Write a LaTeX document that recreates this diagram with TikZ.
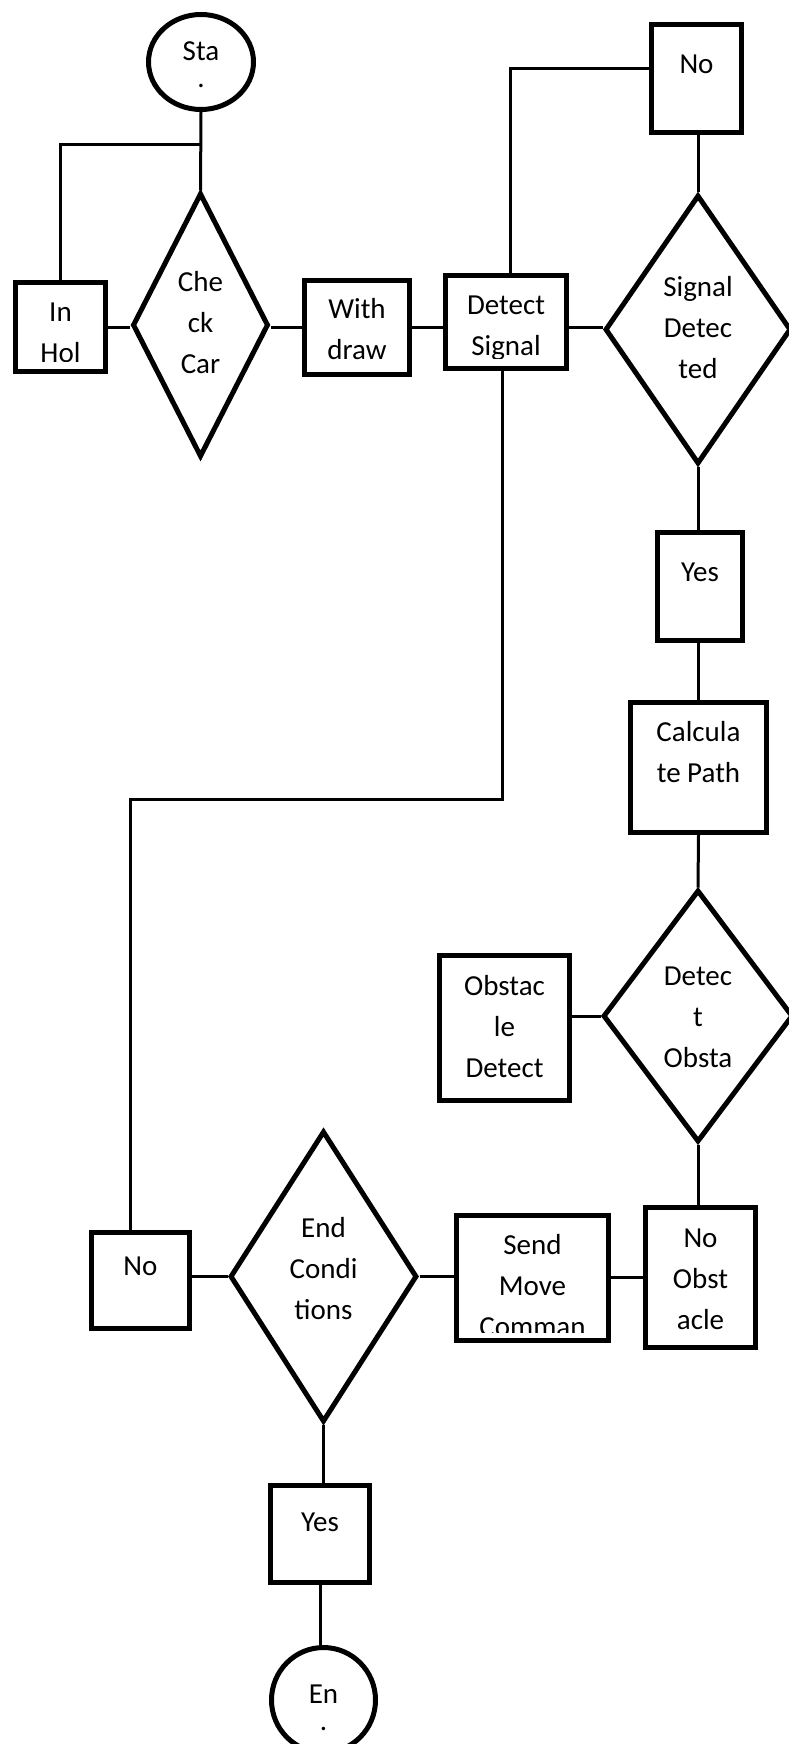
\documentclass[tikz,border=0pt]{standalone}
\usepackage{fontspec}
\setmainfont{Carlito}
\usetikzlibrary{shapes.geometric}
\begin{document}
\begin{tikzpicture}[x=1pt,y=-1pt,
  shp/.style={draw=black, line width=5pt, inner sep=0pt, fill=white},
  box/.style={shp, rectangle},
  dia/.style={shp, diamond},
  ell/.style={shp, ellipse},
  txt/.style={align=center, inner sep=0pt, anchor=base, font=\fontsize{29pt}{41pt}\selectfont},
  conn/.style={draw=black, line width=3pt}]
\useasboundingbox (0,0) rectangle (788,1744);

% shapes
\node[ell, minimum width=105pt, minimum height=95pt] (start) at (201,62) {};
\node[box, minimum width=90pt, minimum height=89pt] (inhol) at (60.5,327) {};
\node[dia, minimum width=136pt, minimum height=264pt] (chk) at (200.5,325) {};
\node[box, minimum width=105pt, minimum height=94pt] (withdraw) at (357,327.5) {};
\node[box, minimum width=121pt, minimum height=93pt] (detsig) at (506,322) {};
\node[box, minimum width=90pt, minimum height=108pt] (no1) at (696.5,78.5) {};
\node[dia, minimum width=186pt, minimum height=269pt] (sigdet) at (698,329.5) {};
\node[box, minimum width=85pt, minimum height=108pt] (yes1) at (700,586.5) {};
\node[box, minimum width=136pt, minimum height=130pt] (calc) at (698.5,767.5) {};
\node[dia, minimum width=190pt, minimum height=252pt] (detobs) at (698,1016) {};
\node[box, minimum width=130pt, minimum height=145pt] (obsdet) at (504.5,1028) {};
\node[box, minimum width=110pt, minimum height=140pt] (noobs) at (700.5,1277.5) {};
\node[box, minimum width=152pt, minimum height=125pt] (send) at (532.5,1278) {};
\node[dia, minimum width=187pt, minimum height=291pt] (endc) at (323.5,1276.5) {};
\node[box, minimum width=98pt, minimum height=96pt] (no2) at (140.5,1280.5) {};
\node[box, minimum width=99pt, minimum height=97pt] (yes2) at (320,1534) {};
\node[ell, minimum width=104pt, minimum height=105pt] (endn) at (323.5,1700) {};

\coordinate (j1) at (200.5,145);
\coordinate (bend) at (130,799);

% connectors
\draw[conn] (start.south) -- (chk.north);
\draw[conn] (inhol.north) |- (j1);
\draw[conn] (inhol.east) -- (inhol.east -| chk.west);
\draw[conn] (withdraw.west -| chk.east) -- (withdraw.west);
\draw[conn] (withdraw.east) -- (withdraw.east -| detsig.west);
\draw[conn] ([xshift=4pt]detsig.north) |- ([yshift=9.5pt]no1.west);
\draw[conn] (sigdet.north |- no1.south) -- (sigdet.north);
\draw[conn] ([yshift=2.5pt]sigdet.west -| detsig.east) -- ([yshift=2.5pt]sigdet.west);
\draw[conn] (sigdet.south) -- (sigdet.south |- yes1.north);
\draw[conn] (calc.north |- yes1.south) -- (calc.north);
\draw[conn] (calc.south) -- (detobs.north);
\draw[conn] (obsdet.east |- detobs.west) -- (detobs.west);
\draw[conn] (detobs.south) -- (detobs.south |- noobs.north);
\draw[conn] (noobs.west) -- (noobs.west -| send.east);
\draw[conn] (endc.east) -- (endc.east -| send.west);
\draw[conn] (endc.west) -- (endc.west -| no2.east);
\draw[conn] ([xshift=-4pt]detsig.south) |- (bend) -- (bend |- no2.north);
\draw[conn] (endc.south) -- (endc.south |- yes2.north);
\draw[conn] (yes2.south) -- (yes2.south |- endn.north);

% texts (anchor = baseline of the last line)
\node[txt] (tstart) at (201,88) {Sta\\[-14pt].};
\begin{scope}
\clip (16,283) rectangle (105,361);
\node[txt] (tinhol) at (60.5,362) {In\\Hol};
\end{scope}
\node[txt] (tchk) at (200.5,373) {Che\\ck\\Car};
\node[txt] (twith) at (357,359) {With\\draw};
\begin{scope}
\clip (446,276) rectangle (566,358);
\node[txt] (tdetsig) at (506,355) {Detect\\Signal};
\end{scope}
\node[txt] (tno1) at (696.5,74) {No};
\node[txt] (tsigdet) at (698,378) {Signal\\Detec\\ted};
\node[txt] (tyes1) at (700,581) {Yes};
\node[txt] (tcalc) at (698.5,782) {Calcula\\te Path};
\node[txt] (tdetobs) at (698,1067) {Detec\\t\\Obsta};
\node[txt] (tobsdet) at (504.5,1077) {Obstac\\le\\Detect};
\node[txt] (tnoobs) at (700.5,1329) {No\\Obst\\acle};
\begin{scope}
\clip (457,1216) rectangle (608,1332);
\node[txt] (tsend) at (532.5,1336) {Send\\Move\\Comman};
\end{scope}
\node[txt] (tendc) at (323.5,1319) {End\\Condi\\tions};
\node[txt] (tno2) at (140.5,1275) {No};
\node[txt] (tyes2) at (320,1531) {Yes};
\node[txt] (tendn) at (323.5,1730) {En\\[-14pt].};
\end{tikzpicture}
\end{document}
